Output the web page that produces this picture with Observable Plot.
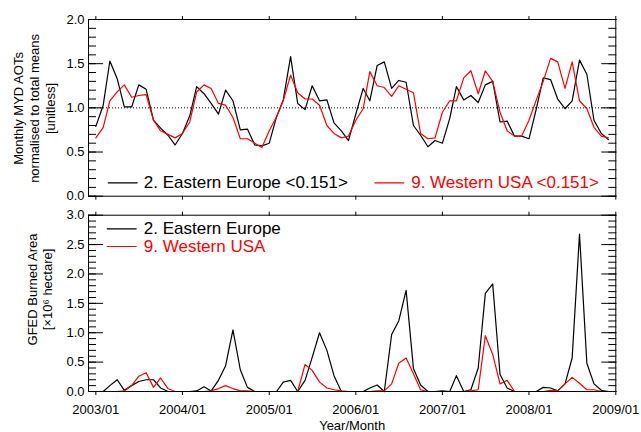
<!DOCTYPE html>
<html><head><meta charset="utf-8">
<script src="https://cdn.jsdelivr.net/npm/d3@7"></script>
<script src="https://cdn.jsdelivr.net/npm/@observablehq/plot@0.6"></script>
<style>
body{margin:0;background:#fff;}
#chart{position:relative;width:641px;height:432px;font-family:"Liberation Sans",Arial,Helvetica,sans-serif;background:#fff;}
#chart svg{position:absolute;left:0;}
</style></head><body><div id="chart"></div>
<script>
// ---- data (monthly, 2003/01 .. 2008/12) ----
const aotEasternEurope = [
 0.79,1.03,1.53,1.33,1.01,1.01,1.26,1.21,0.86,0.77,0.69,0.58,
 0.71,0.91,1.24,1.16,1.05,0.93,1.20,1.08,0.75,0.76,0.58,0.57,
 0.60,0.90,1.09,1.58,1.05,0.98,1.25,1.08,1.09,0.83,0.74,0.63,
 0.93,1.22,1.08,1.48,1.52,1.22,1.31,1.29,0.80,0.69,0.56,0.63,
 0.60,0.88,1.24,1.09,1.14,1.06,1.26,1.30,0.84,0.85,0.68,0.68,
 0.65,0.99,1.34,1.32,1.10,0.99,1.08,1.54,1.38,0.86,0.71,0.64];
const aotWesternUSA = [
 0.66,0.78,1.08,1.18,1.26,1.12,1.14,1.15,0.86,0.74,0.70,0.66,
 0.71,0.84,1.18,1.26,1.22,1.05,1.03,0.89,0.65,0.65,0.60,0.55,
 0.74,0.90,1.08,1.37,1.17,1.10,1.10,1.03,0.80,0.71,0.66,0.68,
 0.86,0.99,1.41,1.25,1.23,1.13,1.25,1.21,1.17,0.71,0.65,0.66,
 0.95,1.08,1.08,1.34,1.42,1.16,1.42,1.30,0.95,0.74,0.68,0.68,
 0.86,1.09,1.30,1.56,1.52,1.22,1.52,1.08,0.99,0.78,0.68,0.66];
const burnedEasternEurope = [
 0,0,0.10,0.20,0.02,0.10,0.17,0.20,0.20,0.06,0,0,
 0,0,0.01,0.08,0.01,0.19,0.44,1.05,0.37,0.07,0,0,
 0,0,0.16,0.19,0,0.19,0.58,1.00,0.70,0.27,0,0,
 0,0,0.06,0.11,0,0.97,1.20,1.72,0.39,0.11,0,0,
 0.01,0,0.27,0,0.03,0.40,1.67,1.83,0.29,0.06,0,0,
 0,0,0.07,0.06,0.01,0.13,0.57,2.68,0.48,0.13,0.02,0];
const burnedWesternUSA = [
 0,0,0,0,0.01,0.10,0.26,0.32,0.07,0.23,0.05,0,
 0,0,0,0,0.01,0.05,0.10,0.05,0.01,0.01,0,0,
 0,0,0,0,0,0.46,0.36,0.16,0.06,0.03,0.01,0,
 0,0,0,0.01,0.01,0.13,0.48,0.57,0.30,0.03,0,0,
 0,0,0,0,0.01,0.03,0.95,0.63,0.13,0.19,0,0,
 0,0,0,0.02,0.01,0.13,0.24,0.14,0.03,0.03,0,0];
const yearTickLabels = ["2003/01","2004/01","2005/01","2006/01","2007/01","2008/01","2009/01"];
const aotTicks = [0.0,0.5,1.0,1.5,2.0];
const burnedTicks = [0.0,0.5,1.0,1.5,2.0,2.5,3.0];
const seriesNames = ["2. Eastern Europe","9. Western USA"];
const aotLegendSuffix = " <0.151>";
const seriesColors = ["#000000","#ff0000"];
const aotTitle = "Monthly MYD AOTs\nnormalised to total means\n[unitless]";
const burnedTitle = "GFED Burned Area\n[\u00d710\u2076 hectare]";
const xTitle = "Year/Month";

// ---- build ----
const parse = d3.utcParse("%Y/%m");
const fmt = d3.utcFormat("%Y/%m");
const months = d3.utcMonth.range(parse("2003/01"), parse("2009/01"));
const yearTicks = yearTickLabels.map(parse);
const xDomain = [d3.utcMonth.offset(parse("2003/01"), -1), parse("2009/01")];
const font = '"Liberation Sans",Arial,Helvetica,sans-serif';
const hline = {draw(ctx, l) { ctx.moveTo(0, 0); ctx.lineTo(0, -l); }};
const minor = (max) => d3.range(0, Math.round(max * 10) + 1).map(d => d / 10);

function yAxes(ticks, max) {
  return ["left", "right"].flatMap(anchor => [
    Plot.axisY({anchor, ticks, tickSize: -15, text: null, label: null, strokeWidth: 1}),
    Plot.axisY({anchor, ticks: minor(max), tickSize: -8, text: null, label: null, strokeWidth: 1})
  ]);
}
function xTickAxes() {
  return ["top", "bottom"].map(anchor =>
    Plot.axisX({anchor, ticks: yearTicks, tickSize: 4, text: null, label: null}));
}
function legendLine(color, frameAnchor, dx, dy) {
  return Plot.vector([0], {frameAnchor, dx, dy, length: 29, rotate: 90, anchor: "start", shape: hline, stroke: color, strokeWidth: 1.2});
}

const chart = document.getElementById("chart");

// Top panel
const topPanel = Plot.plot({
  width: 641, height: 204,
  marginTop: 19, marginBottom: 8.3, marginLeft: 88, marginRight: 25.7,
  style: {fontFamily: font, color: "#000", background: "transparent", overflow: "visible"},
  x: {type: "utc", domain: xDomain},
  y: {domain: [0, 2]},
  marks: [
    Plot.ruleY([1], {stroke: "#000", strokeDasharray: "1,2", strokeWidth: 1}),
    Plot.lineY(aotEasternEurope, {x: months, y: d => d, stroke: seriesColors[0], strokeWidth: 1.2}),
    Plot.lineY(aotWesternUSA, {x: months, y: d => d, stroke: seriesColors[1], strokeWidth: 1.2}),
    Plot.frame({stroke: "#000", strokeWidth: 1}),
    Plot.axisY({anchor: "left", ticks: aotTicks, tickSize: 0, tickPadding: 4, tickFormat: d3.format(".1f"), fontSize: 13, label: null, fill: "#000"}),
    ...yAxes(aotTicks, 2),
    ...xTickAxes(),
    legendLine(seriesColors[0], "bottom-left", 19.7, -13.4),
    Plot.text([seriesNames[0] + aotLegendSuffix], {frameAnchor: "bottom-left", dx: 55.3, dy: -13.4, textAnchor: "start", lineAnchor: "middle", fontSize: 17, fill: seriesColors[0]}),
    legendLine(seriesColors[1], "bottom-left", 286.3, -13.4),
    Plot.text([seriesNames[1] + aotLegendSuffix], {frameAnchor: "bottom-left", dx: 322.7, dy: -13.4, textAnchor: "start", lineAnchor: "middle", fontSize: 17, fill: seriesColors[1]}),
    Plot.text([aotTitle], {frameAnchor: "left", dx: -54.5, dy: 0.6, rotate: -90, textAnchor: "middle", lineAnchor: "middle", lineHeight: 1.23, fontSize: 13, fill: "#000"})
  ]
});
topPanel.style.top = "0px";
chart.appendChild(topPanel);

// Bottom panel
const bottomPanel = Plot.plot({
  width: 641, height: 228,
  marginTop: 10.7, marginBottom: 41, marginLeft: 88, marginRight: 25.7,
  style: {fontFamily: font, color: "#000", background: "transparent", overflow: "visible"},
  x: {type: "utc", domain: xDomain},
  y: {domain: [0, 3]},
  marks: [
    Plot.lineY(burnedEasternEurope, {x: months, y: d => d, stroke: seriesColors[0], strokeWidth: 1.2}),
    Plot.lineY(burnedWesternUSA, {x: months, y: d => d, stroke: seriesColors[1], strokeWidth: 1.2}),
    Plot.frame({stroke: "#000", strokeWidth: 1}),
    Plot.axisY({anchor: "left", ticks: burnedTicks, tickSize: 0, tickPadding: 4, tickFormat: d3.format(".1f"), fontSize: 13, label: null, fill: "#000"}),
    ...yAxes(burnedTicks, 3),
    ...xTickAxes(),
    Plot.axisX({anchor: "bottom", ticks: yearTicks, tickSize: 0, tickPadding: 13, tickFormat: fmt, fontSize: 13, label: null, fill: "#000"}),
    legendLine(seriesColors[0], "top-left", 18.7, 13.6),
    Plot.text([seriesNames[0]], {frameAnchor: "top-left", dx: 55.3, dy: 13.6, textAnchor: "start", lineAnchor: "middle", fontSize: 17, fill: seriesColors[0]}),
    legendLine(seriesColors[1], "top-left", 18.7, 31.3),
    Plot.text([seriesNames[1]], {frameAnchor: "top-left", dx: 55.3, dy: 31.3, textAnchor: "start", lineAnchor: "middle", fontSize: 17, fill: seriesColors[1]}),
    Plot.text([burnedTitle], {frameAnchor: "left", dx: -48.8, dy: -13.9, rotate: -90, textAnchor: "middle", lineAnchor: "middle", lineHeight: 1.15, fontSize: 13, fill: "#000"}),
    Plot.text([xTitle], {frameAnchor: "bottom", dy: 34, lineAnchor: "middle", fontSize: 13, fill: "#000"})
  ]
});
bottomPanel.style.top = "204px";
chart.appendChild(bottomPanel);
</script></body></html>
